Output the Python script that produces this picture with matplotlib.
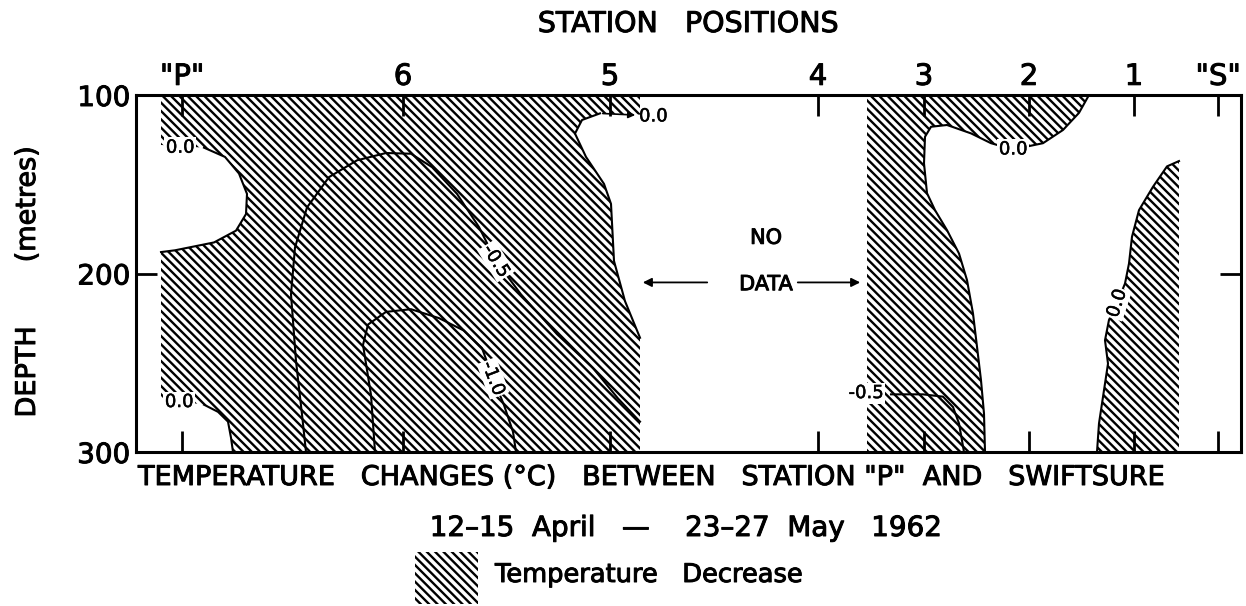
import matplotlib.pyplot as plt
import matplotlib.patheffects as pe
from matplotlib.patches import Rectangle
from matplotlib.text import Text

plt.rcParams['font.family'] = ['DejaVu Sans']
plt.rcParams['hatch.linewidth'] = 1.7
plt.rcParams['hatch.color'] = 'black'

# station positions along the section (distance units)
stations = ['"P"', '6', '5', '4', '3', '2', '1', '"S"']
station_x = [4.6, 26.7, 47.4, 68.2, 78.8, 89.3, 99.8, 108.2]
depth_ticks = [100, 200, 300]

# isotherms of temperature change, (distance, depth) in metres
# 0.0 near station "P", upper bay (top to bottom)
zero_p_top_x = [2.5, 6.8, 8.9, 10.3, 11.1, 11.0, 10.0, 7.8, 3.9, 2.5]
zero_p_top_d = [128, 129.5, 134.7, 144, 155.4, 166.7, 176, 182.6, 187, 188]
# 0.0 near station "P", lower bay
zero_p_bot_x = [2.5, 6.8, 8.2, 9.2, 9.5, 9.7]
zero_p_bot_d = [270, 273.5, 277.5, 283, 292, 300]
# 0.0 near station 5
zero_5_x = [50.4, 46.4, 44.6, 43.9, 45.0, 46.8, 47.5, 47.8, 48.9, 50.4]
zero_5_d = [111, 110.3, 114, 121.6, 134.7, 149.8, 161, 193, 215.5, 236]
# -0.5 between "P" and 5
minus05_w_x = [17.0, 16.6, 16.0, 15.5, 15.9, 17.1, 19.3, 22.1, 25.0, 27.5,
               29.6, 32.1, 34.3, 36.0, 38.5, 42.1, 45.7, 48.2, 50.4]
minus05_w_d = [300, 279, 249, 211.7, 185.4, 163, 146, 136.6, 132.5, 132.9,
               140.4, 155.4, 174, 193, 211.7, 234, 253, 270, 283]
# -1.0 between 6 and 5
minus10_x = [23.9, 23.5, 22.7, 23.2, 25.0, 27.5, 30.3, 32.8, 34.6, 35.7, 36.8, 37.7, 38.0]
minus10_d = [300, 268, 240, 228.6, 221.5, 220, 225, 232, 241.8, 258.7, 273.7, 288.7, 300]
# 0.0 between 3 and 2
zero_3_x = [95.3, 94.3, 92.7, 90.7, 87.7, 85.5, 83.5, 81.1, 79.5, 78.9, 78.8,
            79.1, 79.9, 81.1, 82.3, 83.1, 83.7, 84.1, 84.5, 84.8, 84.9]
zero_3_d = [100, 110, 119.6, 127, 130.5, 127, 121.5, 116.8, 117.8, 123.4, 138.3,
            155, 164.5, 175.7, 188.8, 203.7, 222.4, 241, 259.8, 278.5, 300]
# -0.5 near station 3
minus05_e_x = [75.5, 78.7, 80.7, 81.7, 82.3, 82.8]
minus05_e_d = [267.7, 267.7, 269, 274.8, 284, 300]
# 0.0 near station 1
zero_1_x = [104.3, 103.1, 101.7, 100.3, 99.6, 99.3, 98.9, 98.1, 97.3, 96.9, 97.2, 96.8, 96.3, 96.1]
zero_1_d = [137, 140, 151.4, 164.5, 179.4, 194.4, 205.6, 216.8, 226, 237.4, 250.5, 265.4, 284, 300]

# limits of the observed sections
west_x = (2.5, 50.4)
east_x = (73.1, 104.3)

fig = plt.figure(figsize=(12.46, 6.06), dpi=100)
ax = fig.add_axes([136 / 1246, 1 - 452 / 606, 1105 / 1246, 357 / 606])

hatch_kw = dict(facecolor='none', edgecolor='black', hatch='\\\\\\\\', linewidth=0)

# western block: "P" to station 5
wx = [west_x[0], west_x[1]] + zero_5_x + [west_x[1]] + zero_p_bot_x[::-1] + zero_p_top_x[::-1]
wd = [100, 100] + zero_5_d + [300] + zero_p_bot_d[::-1] + zero_p_top_d[::-1]
ax.fill(wx, wd, **hatch_kw)

# eastern block at station 3
ex = [east_x[0]] + zero_3_x + [east_x[0]]
ed = [100] + zero_3_d + [300]
ax.fill(ex, ed, **hatch_kw)

# strip at station 1
sx = zero_1_x + [east_x[1]]
sd = zero_1_d + [300]
ax.fill(sx, sd, **hatch_kw)

line_kw = dict(color='black', lw=1.5)
ax.plot(zero_p_top_x[1:], zero_p_top_d[1:], **line_kw)
ax.plot(zero_p_bot_x[1:], zero_p_bot_d[1:], **line_kw)
ax.plot(zero_5_x[1:], zero_5_d[1:], **line_kw)
ax.plot(minus05_w_x, minus05_w_d, **line_kw)
ax.plot(minus10_x, minus10_d, **line_kw)
ax.plot(zero_3_x, zero_3_d, **line_kw)
ax.plot(minus05_e_x, minus05_e_d, **line_kw)
ax.plot(zero_1_x, zero_1_d, **line_kw)

thin = [pe.withStroke(linewidth=0.35, foreground='black')]
lab_kw = dict(fontsize=13, ha='center', va='center', path_effects=thin,
              bbox=dict(facecolor='white', edgecolor='none', pad=1.0))
labels = [
    ax.text(4.4, 129.5, '0.0', **lab_kw),
    ax.text(4.3, 272, '0.0', **lab_kw),
    ax.text(87.7, 130.5, '0.0', **lab_kw),
    ax.text(98.1, 216.8, '0.0', rotation=72, **lab_kw),
    ax.text(36.0, 193, '-0.5', rotation=-58, **lab_kw),
    ax.text(35.7, 258.7, '-1.0', rotation=-69, **lab_kw),
    ax.text(73.0, 267, '-0.5', **lab_kw),
    ax.text(50.3, 112, '0.0', fontsize=13, ha='left', va='center', path_effects=thin),
]
ax.annotate('', xy=(50.2, 111.3), xytext=(46.4, 110.3),
            arrowprops=dict(arrowstyle='-|>', color='black', lw=1.2, mutation_scale=10))

# gap without observations
labels.append(ax.text(63.0, 180, 'NO', fontsize=15, ha='center', va='center'))
labels.append(ax.text(63.0, 206, 'DATA', fontsize=15, ha='center', va='center'))
arrow_kw = dict(arrowstyle='-|>', color='black', lw=1.3, mutation_scale=13)
ax.annotate('', xy=(west_x[1], 205), xytext=(57.4, 205), arrowprops=arrow_kw)
ax.annotate('', xy=(72.7, 205), xytext=(65.9, 205), arrowprops=arrow_kw)

ax.set_xlim(0, 110.5)
ax.set_ylim(300, 100)
ax.set_xticks(station_x)
ax.set_xticklabels(stations, fontsize=21)
ax.set_yticks(depth_ticks)
ax.set_yticklabels([str(d) for d in depth_ticks], fontsize=20)
ax.tick_params(axis='x', top=True, bottom=True, labeltop=True, labelbottom=False,
               direction='in', length=15, width=2, pad=3)
ax.tick_params(axis='y', left=True, right=True, direction='in', length=15, width=2, pad=4)
for s in ax.spines.values():
    s.set_linewidth(2.2)

fig.text(688 / 1246, 1 - 24 / 606, 'STATION   POSITIONS', fontsize=20.5, ha='center', va='center')
fig.text(28 / 1246, 1 - 372 / 606, 'DEPTH', fontsize=19.5, rotation=90, ha='center', va='center')
fig.text(28 / 1246, 1 - 204 / 606, '(metres)', fontsize=19.5, rotation=90, ha='center', va='center')
fig.text(651 / 1246, 1 - 478 / 606,
         'TEMPERATURE   CHANGES (\u00b0C)   BETWEEN   STATION "P"  AND   SWIFTSURE',
         fontsize=19.5, ha='center', va='center')
fig.text(686 / 1246, 1 - 528 / 606, '12\u201315  April   \u2014    23\u201327  May   1962',
         fontsize=20, ha='center', va='center')

# legend swatch
fig.patches.append(Rectangle((415 / 1246, 1 - 604 / 606), 63 / 1246, 52 / 606,
                             transform=fig.transFigure, **hatch_kw))
fig.text(495 / 1246, 1 - 575 / 606, 'Temperature   Decrease', fontsize=18.5,
         ha='left', va='center')

# heavier lettering for the large text, like inked stencil lettering
for t in fig.findobj(Text):
    if t not in labels[:8]:
        t.set_path_effects([pe.withStroke(linewidth=0.7, foreground='black')])

fig.savefig('out.png', dpi=100)
